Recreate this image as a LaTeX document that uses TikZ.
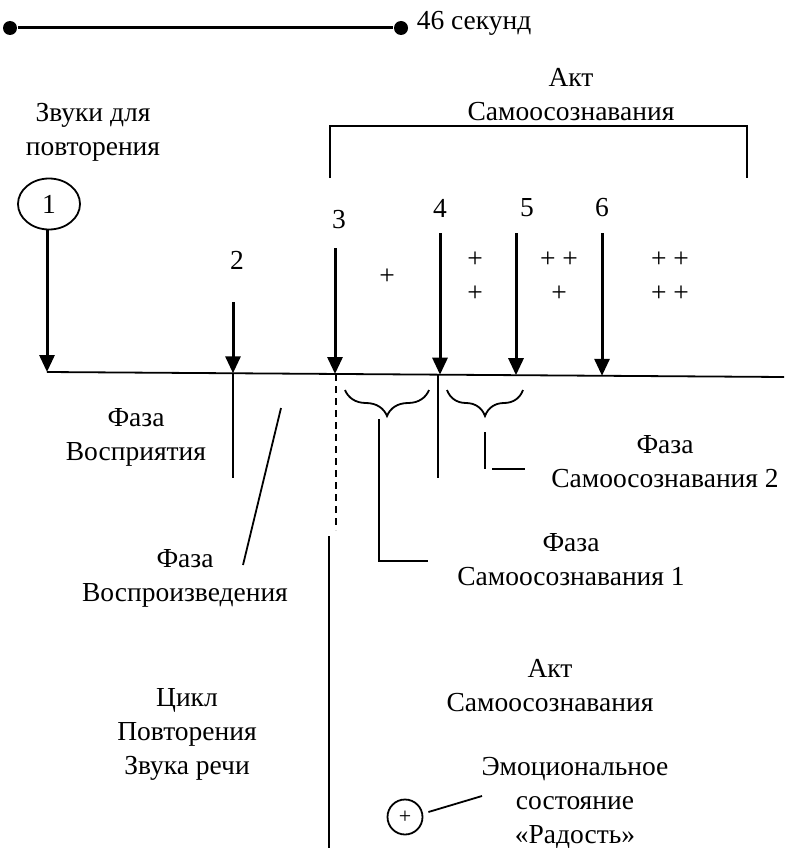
\documentclass[tikz,border=0pt]{standalone}
\usepackage{fontspec}
\setmainfont{Liberation Serif}
\newfontfamily\serifru{Liberation Serif}
\usetikzlibrary{arrows.meta,shapes,positioning,decorations.pathreplacing}

\begin{document}
\begin{tikzpicture}[x=1pt,y=-1pt,line width=1.8pt,
  every node/.style={font=\serifru\fontsize{27.5}{34}\selectfont, align=center, inner sep=0pt},
  pfeil/.style={line width=3pt, -{Triangle[width=15pt,length=17pt]}},
  klammer/.style={decorate, decoration={brace,mirror,amplitude=26pt}},
  punkt/.style={circle, fill=black, minimum size=14pt}]
\useasboundingbox (0,0) rectangle (784,848);

% time bar
\node [punkt] (tstart) at (10,28) {};
\node [punkt] (tend) at (401,28) {};
\draw [line width=3pt] (tstart) -- (tend);
\node [right=7pt of tend, yshift=5pt] (dauer) {46 секунд};

% upper act bracket
\node (aktoben) at (571,95) {Акт\\Самоосознавания};
\coordinate (bl) at (330,178);
\coordinate (br) at (747,178);
\draw (bl) -- (330,126) -- (747,126) -- (br);

% sound marks
\node (zvuki) at (93,132) {Звуки для\\повторения};
\node [draw, ellipse, minimum width=62pt, minimum height=51pt] (n1) at (49,204) {1};
\node (n2) at (237,260) {2};
\node (n3) at (339,220) {3};
\node (n4) at (440,208) {4};
\node (n5) at (527,208) {5};
\node (n6) at (602,208) {6};

% axis
\coordinate (a1) at (47,372);
\coordinate (a2) at (233,373.3);
\coordinate (a3) at (335,374);
\coordinate (a4) at (440,374.7);
\coordinate (a5) at (516,375.2);
\coordinate (a6) at (602,375.8);
\coordinate (aend) at (784,377);
\draw (a1) -- (aend);

\coordinate (s2) at (233,302);
\coordinate (s3) at (335,248);
\coordinate (s4) at (440,233);
\coordinate (s5) at (516,233);
\coordinate (s6) at (602,233);
\draw [pfeil] (n1.south -| a1) -- (a1);
\draw [pfeil] (s2) -- (a2);
\draw [pfeil] (s3) -- (a3);
\draw [pfeil] (s4) -- (a4);
\draw [pfeil] (s5) -- (a5);
\draw [pfeil] (s6) -- (a6);

% pluses
\node (p1) at (387,277) {+};
\node (p2) at (475,277) {+\\+};
\node (p3) at (559,277) {+ +\\+};
\node (p4) at (670,277) {+ +\\+ +};

% ticks below axis
\coordinate (t2) at (233,478);
\coordinate (t3) at (336,530);
\coordinate (t4) at (438,478);
\draw (a2) -- (t2);
\draw [dash pattern=on 7pt off 5pt] (336,374) -- (t3);
\draw (438,374.7) -- (t4);
\coordinate (zo) at (329,536);
\coordinate (zu) at (329,848);
\draw (zo) -- (zu);

% braces
\coordinate (k1l) at (345,390);
\coordinate (k1r) at (429,390);
\coordinate (k2l) at (447,390);
\coordinate (k2r) at (523,390);
\draw [klammer] (k1l) -- (k1r);
\draw [klammer] (k2l) -- (k2r);

\node (fs1) at (571,560) {Фаза\\Самоосознавания 1};
\node (fs2) at (665,462) {Фаза\\Самоосознавания 2};
\coordinate (k1o) at (379,419);
\coordinate (k1u) at (379,561);
\coordinate (k1e) at (428,561);
\draw (k1o) -- (k1u) -- (k1e);
\coordinate (k2o) at (485,432);
\coordinate (k2u) at (485,469);
\draw (k2o) -- (k2u);
\coordinate (k2a) at (492,469);
\coordinate (k2e) at (525,469);
\draw (k2a) -- (k2e);

% phases on the left
\node (fvos) at (136,437) {Фаза\\Восприятия};
\node (fvoz) at (185,578) {Фаза\\Воспроизведения};
\coordinate (sl1) at (281,408);
\coordinate (sl2) at (243,565);
\draw (sl1) -- (sl2);
\node (zyklus) at (187,734) {Цикл\\Повторения\\Звука речи};

% lower act
\node (aktunten) at (550,686) {Акт\\Самоосознавания};
\node [draw, circle, minimum size=35pt, font=\serifru\fontsize{22}{26}\selectfont] (plus) at (405,817) {+};
\node (emo) at (575,803) {Эмоциональное\\состояние\\«Радость»};
\coordinate (emol) at (482,796);
\draw (plus.east) ++(5,-5) coordinate (plusr) -- (emol);
\end{tikzpicture}
\end{document}
